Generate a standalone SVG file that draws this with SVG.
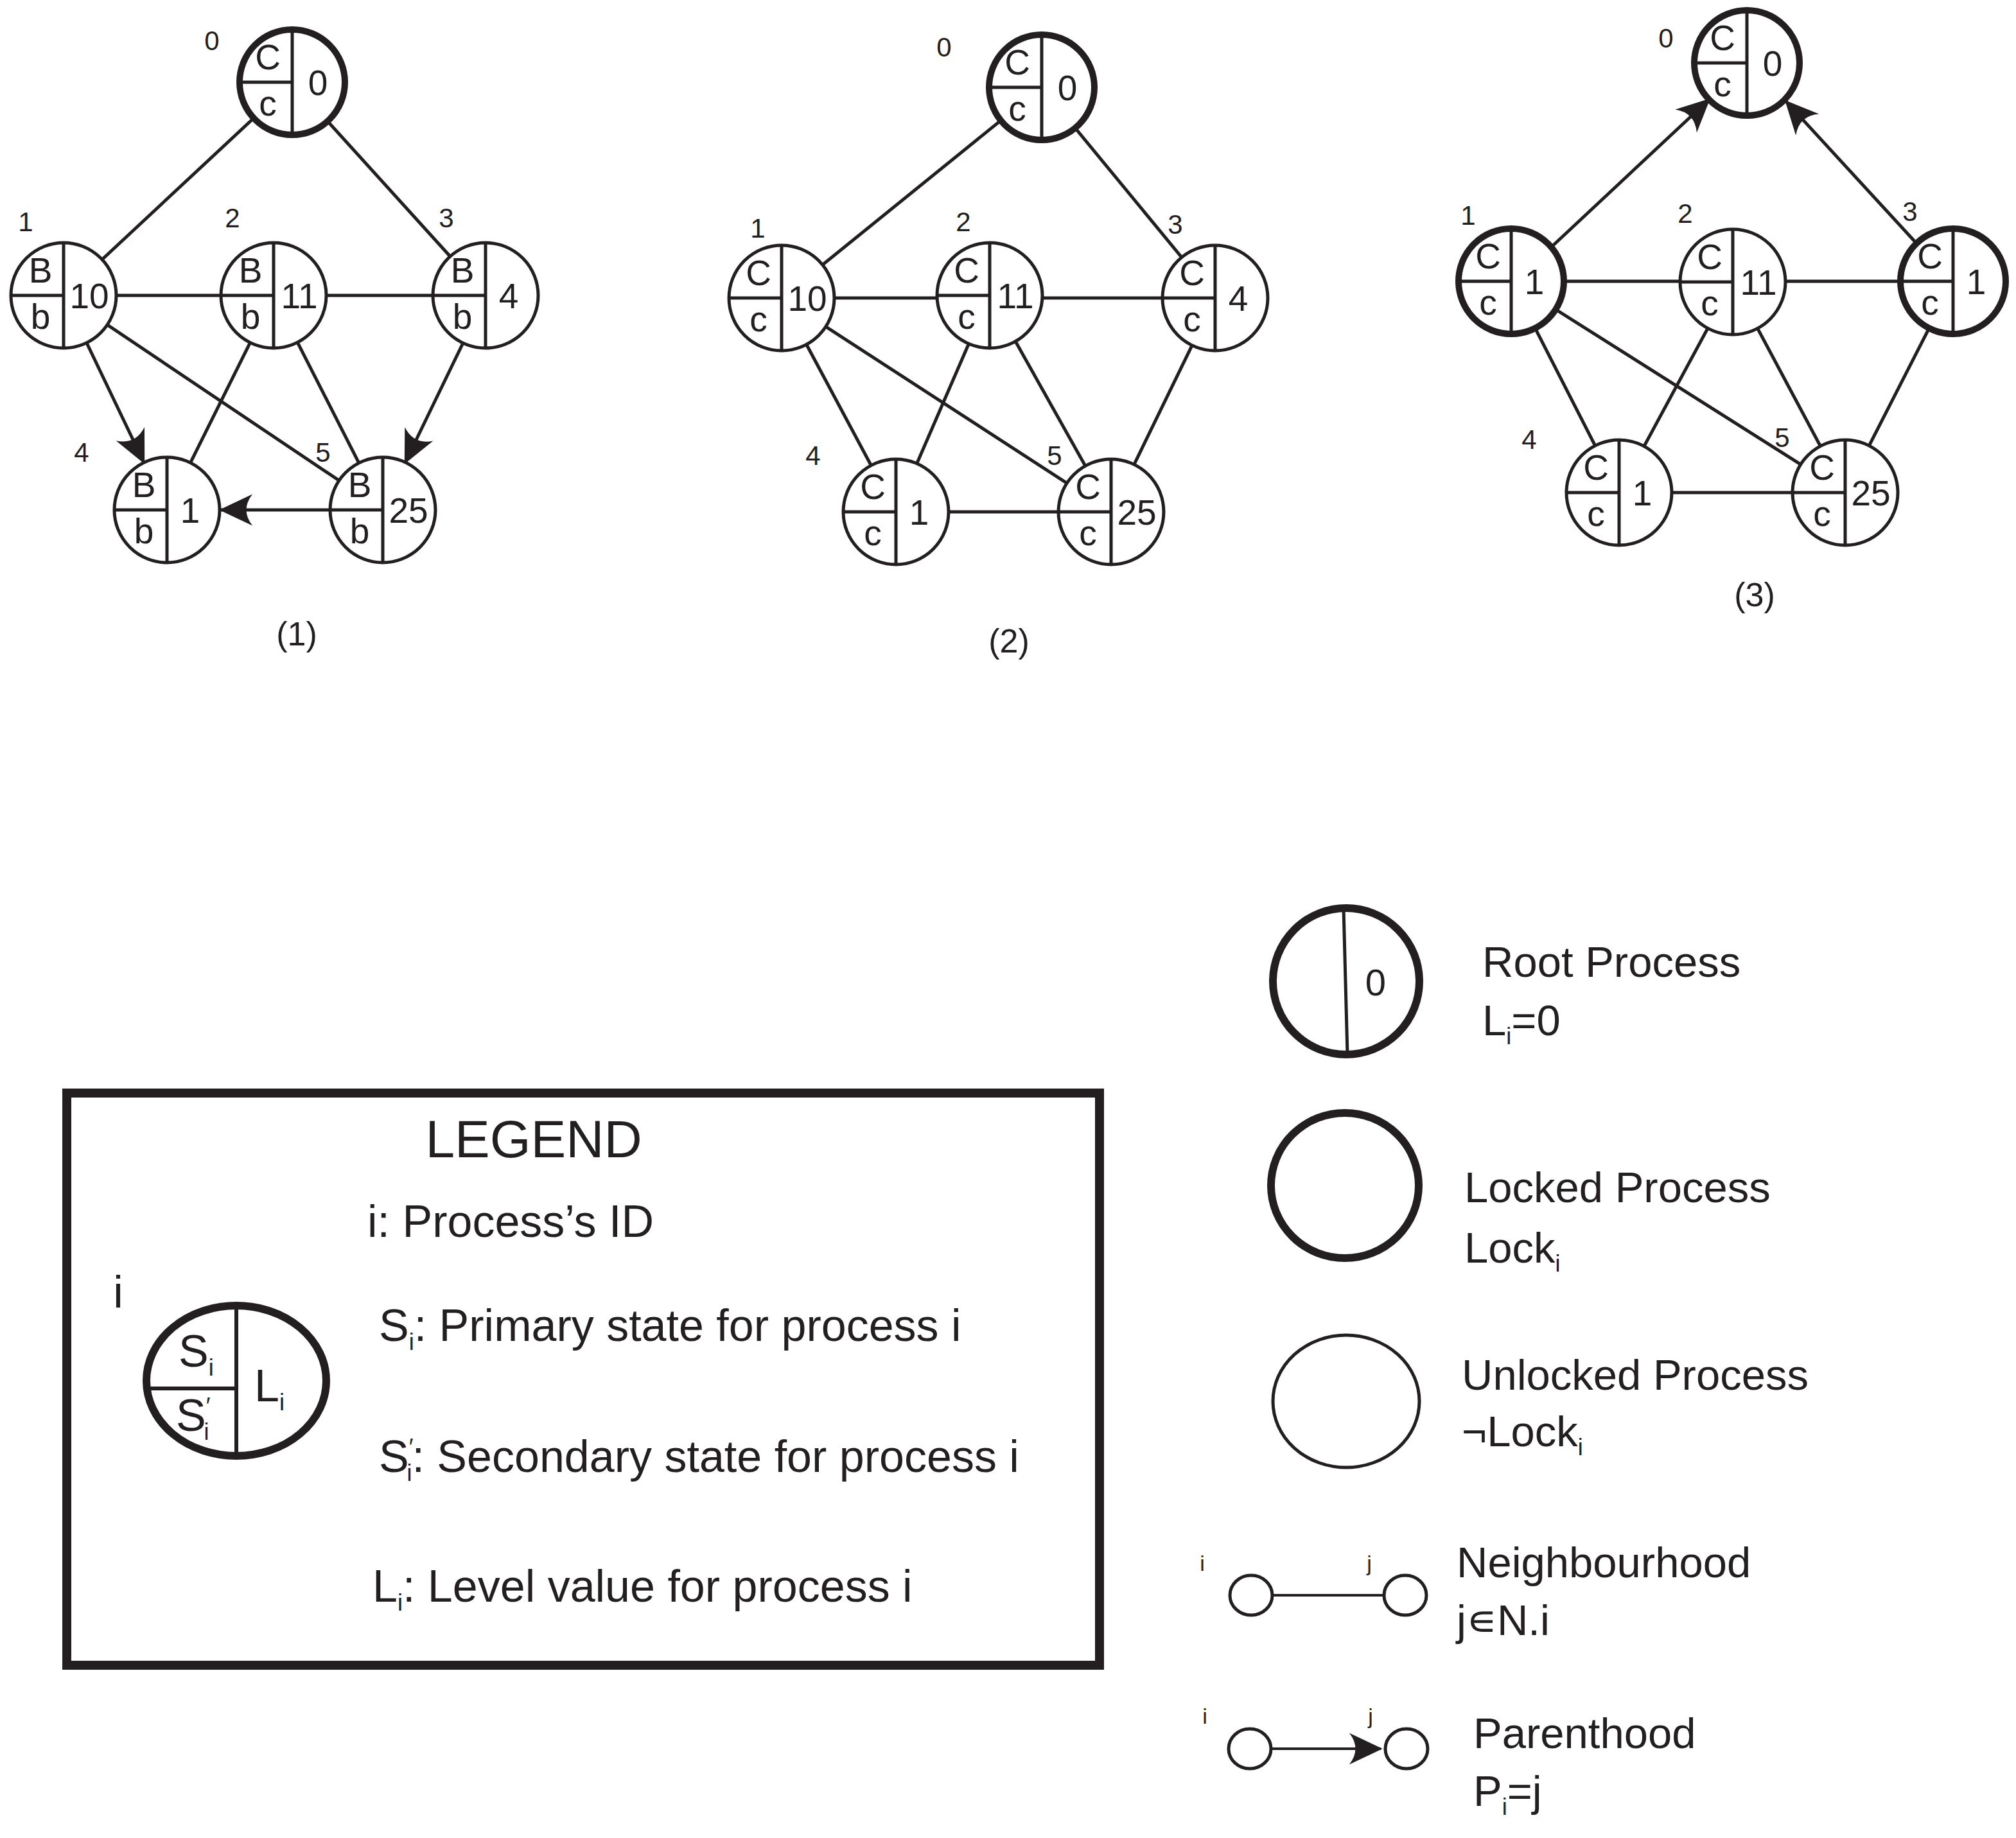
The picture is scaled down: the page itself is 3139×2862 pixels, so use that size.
<svg xmlns="http://www.w3.org/2000/svg" width="3139" height="2862" viewBox="0 0 3139 2862">
<style>
text{font-family:"Liberation Sans",Arial,sans-serif;fill:#231f20}
.n circle{fill:#fff;stroke:#231f20;stroke-width:5}
.n circle.t{stroke-width:10}
.n path{fill:none;stroke:#231f20;stroke-width:5}
.n text{font-size:55px}
.n text.v{text-anchor:middle}
.n text.s{text-anchor:middle}
.lb{font-size:42px;text-anchor:middle}
.cap{font-size:52px;text-anchor:middle}
.e line{stroke:#231f20;stroke-width:5}
.e line.a{marker-end:url(#ah)}
.lg{font-size:70px}
.rt{font-size:67px}
.sub{font-size:36px}
</style>
<defs>
<marker id="ah" markerUnits="userSpaceOnUse" markerWidth="60" markerHeight="60" viewBox="-40 -20 44 40" refX="0" refY="0" orient="auto">
<path d="M2,0 L-36,-18 Q-22,0 -36,18 Z" fill="#231f20"/>
</marker>
</defs>

<!-- Graph 1 connectors -->
<g id="edges1" class="e">
<line x1="455" y1="128" x2="99" y2="460"/>
<line x1="455" y1="128" x2="756" y2="460"/>
<line x1="99" y1="460" x2="756" y2="460"/>
<line x1="99" y1="460" x2="596" y2="794"/>
<line x1="426" y1="460" x2="260" y2="794"/>
<line x1="426" y1="460" x2="596" y2="794"/>
<line class="a" x1="135" y1="534" x2="224" y2="720"/>
<line class="a" x1="721" y1="534" x2="631" y2="720"/>
<line class="a" x1="514" y1="794" x2="344" y2="794"/>
</g>
<!-- Graph 2 connectors -->
<g id="edges2" class="e">
<line x1="1622" y1="136" x2="1217" y2="464"/>
<line x1="1622" y1="136" x2="1892" y2="464"/>
<line x1="1217" y1="464" x2="1892" y2="464"/>
<line x1="1217" y1="464" x2="1395" y2="797"/>
<line x1="1217" y1="464" x2="1730" y2="797"/>
<line x1="1541" y1="460" x2="1395" y2="797"/>
<line x1="1541" y1="460" x2="1730" y2="797"/>
<line x1="1892" y1="464" x2="1730" y2="797"/>
<line x1="1395" y1="797" x2="1730" y2="797"/>
</g>
<!-- Graph 3 connectors -->
<g id="edges3" class="e">
<line x1="2353" y1="438" x2="3041" y2="438"/>
<line x1="2353" y1="438" x2="2521" y2="767"/>
<line x1="2353" y1="438" x2="2873" y2="767"/>
<line x1="2698" y1="439" x2="2521" y2="767"/>
<line x1="2698" y1="439" x2="2873" y2="767"/>
<line x1="3041" y1="438" x2="2873" y2="767"/>
<line x1="2521" y1="767" x2="2873" y2="767"/>
<line class="a" x1="2413" y1="387" x2="2661" y2="155"/>
<line class="a" x1="2986" y1="381" x2="2781" y2="158"/>
</g>

<!-- Graph 1 nodes -->
<g id="g1n0" class="n" transform="translate(455,128)"><circle class="t" r="82"/><path d="M0,-82V82M-82,0H0"/><text class="s" x="-38" y="-20">C</text><text class="s" x="-38" y="52">c</text><text class="v" x="40" y="20">0</text></g>
<g id="g1n1" class="n" transform="translate(99,460)"><circle r="82"/><path d="M0,-82V82M-82,0H0"/><text class="s" x="-36" y="-20">B</text><text class="s" x="-36" y="52">b</text><text class="v" x="40" y="20">10</text></g>
<g id="g1n2" class="n" transform="translate(426,460)"><circle r="82"/><path d="M0,-82V82M-82,0H0"/><text class="s" x="-36" y="-20">B</text><text class="s" x="-36" y="52">b</text><text class="v" x="40" y="20">11</text></g>
<g id="g1n3" class="n" transform="translate(756,460)"><circle r="82"/><path d="M0,-82V82M-82,0H0"/><text class="s" x="-36" y="-20">B</text><text class="s" x="-36" y="52">b</text><text class="v" x="36" y="20">4</text></g>
<g id="g1n4" class="n" transform="translate(260,794)"><circle r="82"/><path d="M0,-82V82M-82,0H0"/><text class="s" x="-36" y="-20">B</text><text class="s" x="-36" y="52">b</text><text class="v" x="36" y="20">1</text></g>
<g id="g1n5" class="n" transform="translate(596,794)"><circle r="82"/><path d="M0,-82V82M-82,0H0"/><text class="s" x="-36" y="-20">B</text><text class="s" x="-36" y="52">b</text><text class="v" x="40" y="20">25</text></g>
<g id="g1labels">
<text class="lb" x="330" y="78">0</text><text class="lb" x="40" y="360">1</text><text class="lb" x="362" y="354">2</text><text class="lb" x="695" y="354">3</text><text class="lb" x="127" y="719">4</text><text class="lb" x="503" y="719">5</text>
<text class="cap" x="462" y="1005">(1)</text>
</g>

<!-- Graph 2 nodes -->
<g id="g2n0" class="n" transform="translate(1622,136)"><circle class="t" r="82"/><path d="M0,-82V82M-82,0H0"/><text class="s" x="-38" y="-20">C</text><text class="s" x="-38" y="52">c</text><text class="v" x="40" y="20">0</text></g>
<g id="g2n1" class="n" transform="translate(1217,464)"><circle r="82"/><path d="M0,-82V82M-82,0H0"/><text class="s" x="-36" y="-20">C</text><text class="s" x="-36" y="52">c</text><text class="v" x="40" y="20">10</text></g>
<g id="g2n2" class="n" transform="translate(1541,460)"><circle r="82"/><path d="M0,-82V82M-82,0H0"/><text class="s" x="-36" y="-20">C</text><text class="s" x="-36" y="52">c</text><text class="v" x="40" y="20">11</text></g>
<g id="g2n3" class="n" transform="translate(1892,464)"><circle r="82"/><path d="M0,-82V82M-82,0H0"/><text class="s" x="-36" y="-20">C</text><text class="s" x="-36" y="52">c</text><text class="v" x="36" y="20">4</text></g>
<g id="g2n4" class="n" transform="translate(1395,797)"><circle r="82"/><path d="M0,-82V82M-82,0H0"/><text class="s" x="-36" y="-20">C</text><text class="s" x="-36" y="52">c</text><text class="v" x="36" y="20">1</text></g>
<g id="g2n5" class="n" transform="translate(1730,797)"><circle r="82"/><path d="M0,-82V82M-82,0H0"/><text class="s" x="-36" y="-20">C</text><text class="s" x="-36" y="52">c</text><text class="v" x="40" y="20">25</text></g>
<g id="g2labels">
<text class="lb" x="1470" y="88">0</text><text class="lb" x="1180" y="370">1</text><text class="lb" x="1500" y="360">2</text><text class="lb" x="1830" y="364">3</text><text class="lb" x="1266" y="724">4</text><text class="lb" x="1642" y="724">5</text>
<text class="cap" x="1571" y="1016">(2)</text>
</g>

<!-- Graph 3 nodes -->
<g id="g3n0" class="n" transform="translate(2720,98)"><circle class="t" r="82"/><path d="M0,-82V82M-82,0H0"/><text class="s" x="-38" y="-20">C</text><text class="s" x="-38" y="52">c</text><text class="v" x="40" y="20">0</text></g>
<g id="g3n1" class="n" transform="translate(2353,438)"><circle class="t" r="82"/><path d="M0,-82V82M-82,0H0"/><text class="s" x="-36" y="-20">C</text><text class="s" x="-36" y="52">c</text><text class="v" x="36" y="20">1</text></g>
<g id="g3n2" class="n" transform="translate(2698,439)"><circle r="82"/><path d="M0,-82V82M-82,0H0"/><text class="s" x="-36" y="-20">C</text><text class="s" x="-36" y="52">c</text><text class="v" x="40" y="20">11</text></g>
<g id="g3n3" class="n" transform="translate(3041,438)"><circle class="t" r="82"/><path d="M0,-82V82M-82,0H0"/><text class="s" x="-36" y="-20">C</text><text class="s" x="-36" y="52">c</text><text class="v" x="36" y="20">1</text></g>
<g id="g3n4" class="n" transform="translate(2521,767)"><circle r="82"/><path d="M0,-82V82M-82,0H0"/><text class="s" x="-36" y="-20">C</text><text class="s" x="-36" y="52">c</text><text class="v" x="36" y="20">1</text></g>
<g id="g3n5" class="n" transform="translate(2873,767)"><circle r="82"/><path d="M0,-82V82M-82,0H0"/><text class="s" x="-36" y="-20">C</text><text class="s" x="-36" y="52">c</text><text class="v" x="40" y="20">25</text></g>
<g id="g3labels">
<text class="lb" x="2594" y="74">0</text><text class="lb" x="2286" y="350">1</text><text class="lb" x="2624" y="347">2</text><text class="lb" x="2974" y="344">3</text><text class="lb" x="2381" y="699">4</text><text class="lb" x="2775" y="696">5</text>
<text class="cap" x="2732" y="944">(3)</text>
</g>

<!-- Legend box -->
<g id="legend">
<rect x="104" y="1702" width="1608" height="891" fill="none" stroke="#231f20" stroke-width="14"/>
<text x="831" y="1802" font-size="82" text-anchor="middle">LEGEND</text>
<text class="lg" x="572" y="1926">i: Process’s ID</text>
<text class="lg" x="590" y="2088">S<tspan class="sub" dy="14">i</tspan><tspan dy="-14">: Primary state for process i</tspan></text>
<text class="lg" x="590" y="2292">S<tspan class="sub" dy="-26">′</tspan><tspan class="sub" dx="-10" dy="40">i</tspan><tspan dy="-14">: Secondary state for process i</tspan></text>
<text class="lg" x="580" y="2494">L<tspan class="sub" dy="14">i</tspan><tspan dy="-14">: Level value for process i</tspan></text>
<text class="lg" x="184" y="2036" text-anchor="middle">i</text>
<g id="legendnode">
<ellipse cx="368" cy="2150" rx="140" ry="117" fill="#fff" stroke="#231f20" stroke-width="12"/>
<path d="M368,2033V2267M228,2162H368" stroke="#231f20" stroke-width="6" fill="none"/>
<text class="lg" x="278" y="2128">S<tspan class="sub" dy="14">i</tspan></text>
<text class="lg" x="274" y="2228">S<tspan class="sub" dy="-26">′</tspan><tspan class="sub" dx="-10" dy="40">i</tspan></text>
<text class="lg" x="396" y="2182">L<tspan class="sub" dy="14">i</tspan></text>
</g>
</g>

<!-- Right legend -->
<g id="root-legend">
<ellipse cx="2096" cy="1528" rx="114" ry="114" fill="#fff" stroke="#231f20" stroke-width="12"/>
<line x1="2092" y1="1414" x2="2098" y2="1642" stroke="#231f20" stroke-width="5"/>
<text x="2142" y="1550" font-size="58" text-anchor="middle">0</text>
<text class="rt" x="2308" y="1521">Root Process</text>
<text class="rt" x="2308" y="1612">L<tspan class="sub" dy="14">i</tspan><tspan dy="-14">=0</tspan></text>
</g>
<g id="locked-legend">
<ellipse cx="2094" cy="1846" rx="115" ry="113" fill="#fff" stroke="#231f20" stroke-width="12"/>
<text class="rt" x="2280" y="1872">Locked Process</text>
<text class="rt" x="2280" y="1966">Lock<tspan class="sub" dy="14">i</tspan></text>
</g>
<g id="unlocked-legend">
<ellipse cx="2096" cy="2182" rx="114" ry="103" fill="#fff" stroke="#231f20" stroke-width="5"/>
<text class="rt" x="2276" y="2164">Unlocked Process</text>
<text class="rt" x="2276" y="2252">¬Lock<tspan class="sub" dy="14">i</tspan></text>
</g>
<g id="neighbour-legend">
<line x1="1980" y1="2484" x2="2156" y2="2484" stroke="#231f20" stroke-width="4"/>
<ellipse cx="1948" cy="2484" rx="33" ry="31" fill="#fff" stroke="#231f20" stroke-width="5"/>
<ellipse cx="2188" cy="2484" rx="33" ry="31" fill="#fff" stroke="#231f20" stroke-width="5"/>
<text x="1872" y="2446" font-size="34" text-anchor="middle">i</text>
<text x="2132" y="2446" font-size="34" text-anchor="middle">j</text>
<text class="rt" x="2268" y="2456">Neighbourhood</text>
<text class="rt" x="2268" y="2546">j∊N.i</text>
</g>
<g id="parent-legend">
<line x1="1980" y1="2723" x2="2150" y2="2723" stroke="#231f20" stroke-width="4" marker-end="url(#ah)"/>
<ellipse cx="1946" cy="2723" rx="33" ry="31" fill="#fff" stroke="#231f20" stroke-width="5"/>
<ellipse cx="2190" cy="2723" rx="33" ry="31" fill="#fff" stroke="#231f20" stroke-width="5"/>
<text x="1876" y="2684" font-size="34" text-anchor="middle">i</text>
<text x="2134" y="2684" font-size="34" text-anchor="middle">j</text>
<text class="rt" x="2294" y="2722">Parenthood</text>
<text class="rt" x="2294" y="2812">P<tspan class="sub" dy="14">i</tspan><tspan dy="-14">=j</tspan></text>
</g>
</svg>
